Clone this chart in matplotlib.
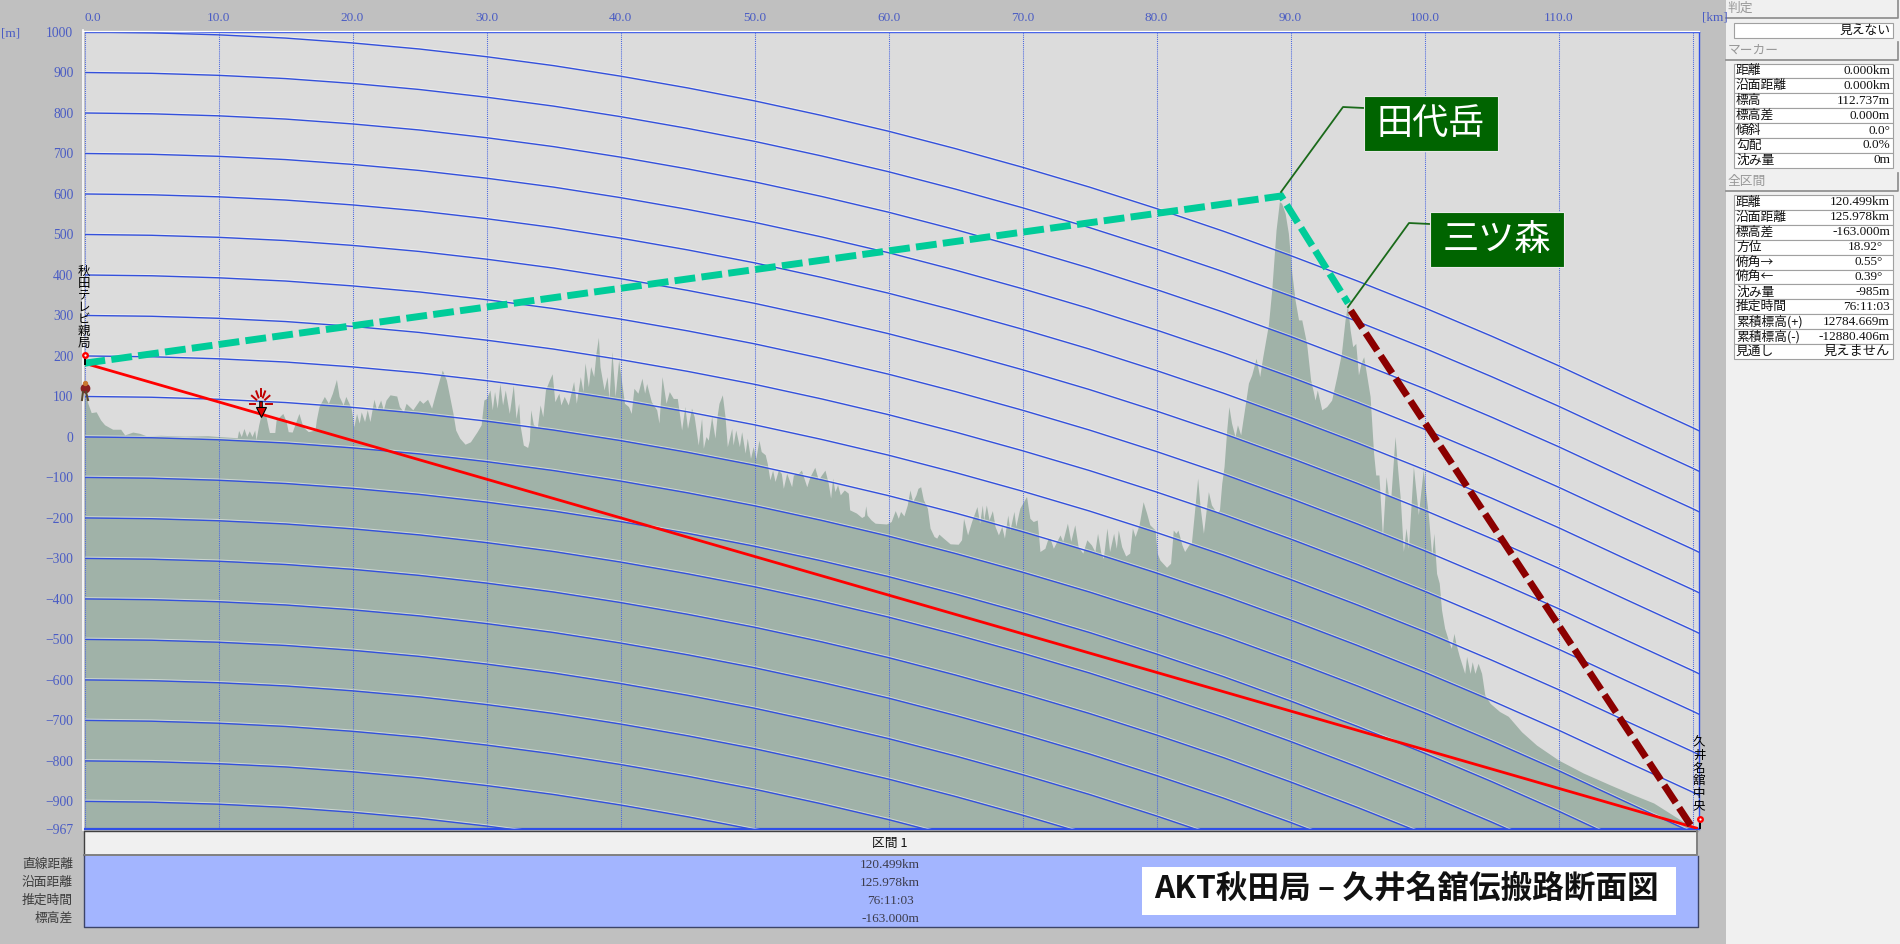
import matplotlib
matplotlib.use('Agg')
import matplotlib.pyplot as plt
import matplotlib.patheffects as pe
from matplotlib.patches import Rectangle

# terrain profile, stretch by stretch
terrain_km_a = [0, 0.25, 0.5, 0.87, 1.2, 1.5, 2.1, 2.7, 3.0, 3.6, 4.1, 4.6, 5.7, 7.5, 9.2, 10, 11.4, 11.5, 11.7, 11.9, 12.1, 12.3, 12.5, 12.7, 12.8, 13.0, 13.2, 13.5, 13.7, 13.8, 14.2, 14.3, 14.8, 15.05, 15.2, 15.5, 16.0, 16.3, 16.7, 17.2, 17.3, 17.5, 17.9, 18.2, 18.5, 18.8, 19.0, 19.3, 19.5, 19.9, 20.1, 20.3, 20.5, 20.65, 20.9, 21.1, 21.3, 21.6, 21.8, 22.1, 22.3, 22.5, 22.8, 23.3, 23.5, 23.8, 24.0, 24.5, 25.0, 25.25, 25.6, 25.9, 26.2, 26.55, 26.7, 27, 27.2, 27.5, 27.7, 28, 28.4]
terrain_m_a = [112, 83, 60, 62, 42, 30, 19, 19, 5, 12, 9, 3, 4, 2, 3, 1, -2, 16, 1, 21, 1, 15, 1, 17, -7, 30, 58, 58, 25, 11, 11, 42, 58, 38, 13, 12, 58, 25, 13, 17, 42, 75, 100, 83, 108, 142, 100, 79, 100, 71, 25, 58, 34, 62, 38, 67, 38, 93, 67, 91, 67, 91, 104, 101, 75, 62, 83, 67, 91, 83, 93, 71, 108, 149, 165, 141, 108, 58, 17, -3, -18]

terrain_km_b = [28.8, 29.3, 29.6, 29.8, 30, 30.26, 30.43, 30.6, 30.8, 31.0, 31.2, 31.4, 31.7, 32, 32.2, 32.4, 32.5, 32.75, 33.07, 33.2, 33.3, 33.5, 33.8, 34, 34.2, 34.4, 34.7, 34.9, 35.1, 35.4, 35.55, 35.8, 36.1, 36.5, 36.7, 37, 37.2, 37.35, 37.6, 37.77, 38, 38.17, 38.35, 38.47, 38.77, 39, 39.14, 39.36, 39.6, 39.86, 40.06, 40.3, 40.6, 40.8, 41, 41.3, 41.6, 41.8, 41.95, 42.3, 42.7, 42.87, 43.1, 43.4, 43.64, 43.94, 44.24, 44.56, 44.8, 45, 45.3, 45.5, 45.8, 46.05, 46.18, 46.38, 46.55, 46.8, 47.05, 47.2, 47.35, 47.6, 47.8, 47.97, 48.3, 48.4, 48.6, 48.87, 49.04, 49.3, 49.46, 49.7, 49.9, 50.1, 50.33, 50.5, 50.8, 50.95, 51.15, 51.35, 51.53, 51.78, 52.0, 52.15, 52.4, 52.77, 52.9, 53.27, 53.5, 53.9, 54.14, 54.5, 54.76, 55, 55.26, 55.5, 55.68]
terrain_m_b = [-12, 13, 30, 91, 95, 116, 67, 112, 71, 132, 79, 116, 58, 128, 46, 83, 30, -20, -26, -8, 67, 30, 25, 79, 50, 116, 141, 156, 87, 108, 79, 100, 79, 137, 83, 149, 112, 183, 124, 174, 149, 207, 246, 174, 116, 149, 95, 211, 100, 190, 141, 83, 75, 58, 120, 108, 145, 108, 132, 87, 67, 34, 149, 83, 112, 95, 95, 17, 75, 21, 71, 50, -20, 46, -28, 1, -8, 50, -3, 50, 83, 104, 50, -24, 21, -20, 17, -24, 13, -40, -3, -53, -24, -53, -8, -36, -44, -65, -106, -82, -110, -82, -90, -127, -90, -123, -94, -90, -82, -123, -98, -75, -106, -94, -82, -114, -151]

terrain_km_c = [55.83, 56, 56.2, 56.4, 56.7, 57, 57.1, 57.6, 58, 58.2, 58.3, 58.4, 58.7, 59, 59.85, 60.2, 60.5, 60.73, 60.9, 61.15, 61.4, 61.6, 61.8, 62.05, 62.2, 62.4, 62.6, 62.9, 63.1, 63.4, 63.6, 63.76, 64.1, 64.6, 65.2, 65.45, 65.6, 65.9, 66.2, 66.6, 66.8, 67, 67.1, 67.3, 67.5, 67.75, 67.95, 68.2, 68.45, 68.65, 68.9, 69.06, 69.36, 69.5, 69.8, 70.3, 70.55, 70.8, 71.1, 71.3, 71.67, 71.87, 72.05, 72.3, 72.8, 73.0, 73.35, 73.6, 73.9, 74.15, 74.5, 74.8, 75.15, 75.4, 75.6, 75.85, 76.03, 76.3, 76.5, 76.8, 77, 77.15, 77.4, 77.7, 78, 78.2, 78.4, 78.7, 79, 79.26, 79.5, 79.9, 80.05, 80.25, 80.75, 81.05, 81.25, 81.45, 81.6, 81.9, 82.1, 82.4, 82.6, 82.87, 83.07]
terrain_m_c = [-102, -135, -118, -143, -131, -139, -180, -188, -199, -195, -170, -193, -205, -213, -215, -209, -182, -201, -184, -195, -168, -131, -160, -143, -127, -123, -155, -176, -225, -246, -250, -240, -250, -264, -265, -254, -201, -242, -209, -172, -213, -168, -205, -168, -205, -182, -221, -242, -221, -250, -193, -230, -184, -221, -176, -147, -201, -209, -205, -283, -275, -254, -250, -275, -242, -258, -213, -258, -217, -271, -287, -254, -267, -283, -238, -287, -300, -225, -283, -238, -275, -230, -271, -294, -287, -225, -246, -217, -160, -188, -217, -230, -287, -304, -322, -312, -230, -238, -230, -267, -283, -267, -263, -172, -102]

terrain_km_d = [83.25, 83.5, 83.87, 84.1, 84.5, 84.7, 84.87, 85.04, 85.24, 85.4, 85.6, 85.86, 86.04, 86.28, 86.6, 86.86, 87.1, 87.43, 87.7, 87.93, 88.35, 88.6, 88.92, 89.17, 89.34, 89.6, 89.84, 90.1, 90.34, 90.6, 90.84, 91.2, 91.5, 91.7, 91.83, 92, 92.33, 92.7, 93.07, 93.45, 93.8, 94.07, 94.25, 94.45, 94.64, 94.87, 95.07, 95.26, 95.46, 95.7, 95.94, 96.2, 96.36, 96.6, 96.86, 97.13, 97.3, 97.5, 97.8, 98, 98.2, 98.42, 98.62, 98.8, 99.17, 99.54, 99.9, 100.3, 100.54, 100.7, 100.9]
terrain_m_d = [-172, -238, -135, -168, -188, -180, -114, -73, 17, 75, 34, 1, 30, 5, 75, 133, 153, 194, 149, 198, 277, 363, 511, 581, 577, 552, 503, 404, 338, 289, 289, 231, 141, 112, 91, 116, 67, 75, 91, 149, 207, 289, 326, 264, 223, 231, 153, 182, 198, 149, 100, -40, -94, -94, -246, -98, -143, -143, 1, -81, -155, -283, -225, -275, -73, -192, -81, -197, -295, -238, -337]

terrain_km_e = [101.1, 101.27, 101.5, 101.77, 102, 102.2, 102.34, 102.6, 103, 103.14, 103.4, 103.56, 103.76, 104, 104.26, 104.5, 104.9, 105.6, 106.25, 107.24, 108.36, 110, 111.85, 113.83, 115.6, 117.1, 118.3, 119.3, 120.3, 120.499]
terrain_m_e = [-361, -427, -472, -501, -522, -485, -510, -542, -584, -542, -584, -555, -584, -559, -584, -637, -658, -678, -690, -728, -761, -798, -830, -859, -884, -904, -929, -950, -966, -967]

terrain_km = terrain_km_a + terrain_km_b + terrain_km_c + terrain_km_d + terrain_km_e
terrain_m = terrain_m_a + terrain_m_b + terrain_m_c + terrain_m_d + terrain_m_e

# earth-curve lines: one start height each, all dropping by the same amount
curve_levels = [1000, 900, 800, 700, 600, 500, 400, 300, 200, 100, 0, -100, -200, -300, -400, -500, -600, -700, -800, -900]
curve_km = [0, 5, 10, 15, 20, 25, 30, 35, 40, 45, 50, 55, 60, 65, 70, 75, 80, 85, 90, 95, 100, 105, 110, 115, 120, 120.499]
curve_drop = [0, 2, 7, 15, 27, 42, 61, 83, 109, 138, 170, 206, 245, 288, 334, 383, 436, 492, 552, 615, 681, 751, 824, 901, 977, 985]

sight_km = [0, 120.3]
sight_m = [182, -966]
green_km = [0, 89.3, 94.3]
green_m = [182, 595, 330]
maroon_km = [94.5, 120.0]
maroon_m = [312, -966]

yticks = [1000, 900, 800, 700, 600, 500, 400, 300, 200, 100, 0, -100, -200, -300, -400, -500, -600, -700, -800, -900, -967]
xticks = [0, 10, 20, 30, 40, 50, 60, 70, 80, 90, 100, 110]
grid_km = xticks + [120]

judge_value = '見えない'
marker_names = ['距離', '沿面距離', '標高', '標高差', '傾斜', '勾配', '沈み量']
marker_values = ['0.000km', '0.000km', '112.737m', '0.000m', '0.0°', '0.0%', '0m']
total_names = ['距離', '沿面距離', '標高差', '方位', '俯角→', '俯角←', '沈み量', '推定時間', '累積標高(+)', '累積標高(-)', '見通し']
total_values = ['120.499km', '125.978km', '-163.000m', '18.92°', '0.55°', '0.39°', '-985m', '76:11:03', '12784.669m', '-12880.406m', '見えません']
section_names = ['直線距離', '沿面距離', '推定時間', '標高差']
section_values = ['120.499km', '125.978km', '76:11:03', '-163.000m']

CJK = ['Noto Sans CJK JP', 'DejaVu Sans']
NUM = ['Liberation Serif', 'Noto Sans CJK JP']
TICK_BLUE = '#4a5cc4'
LINE_BLUE = '#3350dc'

plt.rcParams['font.family'] = CJK

fig = plt.figure(figsize=(19, 9.44), dpi=100, facecolor='#c0c0c0')

# main profile axes, placed to the pixel
left, right, top, bottom = 84.5, 1699.2, 32, 828.5
ax = fig.add_axes([left / 1900, 1 - bottom / 944, (right - left) / 1900, (bottom - top) / 944])
ax.set_facecolor('#dcdcdc')
ax.set_xlim(0, 120.499)
ax.set_ylim(-967, 1000)

ax.fill_between(terrain_km, terrain_m, -967, color='#a0b2a8', lw=0, zorder=1)
for km in grid_km:
    ax.axvline(km, color='#4a66e0', lw=0.75, linestyle=(0, (1, 1)), zorder=2)
for level in curve_levels:
    ax.plot(curve_km, [level - d for d in curve_drop], color=LINE_BLUE, lw=1.0, zorder=3,
            path_effects=[pe.SimpleLineShadow(offset=(0, 0.8), shadow_color='#ffffff', alpha=0.45), pe.Normal()])
ax.plot(sight_km, sight_m, color='#ff0000', lw=2.0, zorder=4)
ax.plot(green_km, green_m, color='#00cc99', lw=5.0, linestyle=(0, (3.0, 0.9)), dash_capstyle='butt', dash_joinstyle='miter', zorder=5)
ax.plot(maroon_km, maroon_m, color='#8b0000', lw=5.0, linestyle=(0, (3.0, 0.9)), dash_capstyle='butt', zorder=5)

ax.xaxis.tick_top()
ax.set_xticks(xticks)
ax.set_xticklabels([f'{v:.1f}' for v in xticks], family=NUM, fontsize=9.5, color=TICK_BLUE)
ax.get_xticklabels()[0].set_ha('left')
ax.set_yticks(yticks)
ax.set_yticklabels([str(v).replace('-', '−') for v in yticks], family=NUM, fontsize=9.8, color=TICK_BLUE)
ax.tick_params(axis='x', length=0, pad=6)
ax.tick_params(axis='y', length=0, pad=8)
for side in ax.spines:
    ax.spines[side].set_color('#2f4fe8')
    ax.spines[side].set_linewidth(1.0)
ax.spines['left'].set_visible(False)
ax.spines['bottom'].set_linewidth(1.6)

# everything around the plot is window furniture, drawn in pixel coordinates
ui = fig.add_axes([0, 0, 1, 1], facecolor='none')
ui.set_xlim(0, 1900)
ui.set_ylim(944, 0)
ui.axis('off')


def box(x0, y0, x1, y1, face, edge='none', lw=0.0, z=1):
    ui.add_patch(Rectangle((x0, y0), x1 - x0, y1 - y0, facecolor=face, edgecolor=edge, linewidth=lw, zorder=z))


def header(y0, y1, label):
    box(1726, y0, 1899, y1, '#f0f0f0')
    ui.plot([1726, 1898, 1898], [y1 - 0.5, y1 - 0.5, y0], color='#8a8a8a', lw=1.2, zorder=2)
    ui.text(1728, (y0 + y1) / 2 - 0.5, label, color='#989898', fontsize=9.2, ha='left', va='center', zorder=3)


def table(y0, names, values, right_shift=()):
    row_h = 14.9
    for i, (name, value) in enumerate(zip(names, values)):
        ry = y0 + i * row_h
        box(1734, ry, 1892.5, ry + row_h, '#ffffff', '#a0a0a0', 0.8, 2)
        ui.text(1736, ry + row_h / 2, name, fontsize=9.2, color='#111111', ha='left', va='center', zorder=3)
        x = 1883 if i in right_shift else 1890
        ui.text(x, ry + row_h / 2, value, family=NUM, fontsize=9.5, color='#111111', ha='right', va='center', zorder=3)


def vertical_label(x, y0, step, label):
    for i, ch in enumerate(label):
        ui.text(x, y0 + i * step, ch, fontsize=9, color='#000000', ha='center', va='center', zorder=6)


def pin(x, y):
    ui.plot([x, x], [y + 1, y + 9], color='#000000', lw=1.4, zorder=6)
    ui.plot([x], [y], marker='o', ms=5, color='#ff0000', mew=0, zorder=7)
    ui.plot([x], [y], marker='o', ms=1.6, color='#ffffff', mew=0, zorder=8)


# white edge of the plot frame
ui.plot([83, 83], [30, 830], color='#ffffff', lw=1.2, zorder=2)
ui.plot([83, 1699], [30.5, 30.5], color='#ffffff', lw=0.9, zorder=2)

ui.text(1, 34, '[m]', family=NUM, fontsize=9.5, color=TICK_BLUE, ha='left', va='center')
ui.text(1702, 17, '[km]', family=NUM, fontsize=9.5, color=TICK_BLUE, ha='left', va='center')

# right-hand panel
box(1726, 0, 1900, 944, '#f0f0f0', z=0)
header(0, 18, '判定')
box(1734, 22.5, 1892.5, 37.5, '#ffffff', '#a0a0a0', 0.8, 2)
ui.text(1891, 30, judge_value, fontsize=9.2, color='#111111', ha='right', va='center', zorder=3)
header(42, 60, 'マーカー')
table(63.5, marker_names, marker_values)
header(173, 191, '全区間')
table(195, total_names, total_values, right_shift=(3, 4, 5))

# bottom section panel
box(84, 831, 1697, 855, '#f0f0f0', z=1)
ui.plot([84, 84, 1697], [855, 831, 831], color='#404040', lw=1.0, zorder=2)
ui.plot([84, 1697, 1697], [855, 855, 831], color='#808080', lw=1.4, zorder=2)
ui.text(890, 843, '区間 1', fontsize=9.2, color='#111111', ha='center', va='center', zorder=3)
box(84, 856, 1698, 926.5, '#a3b5ff', z=1)
ui.plot([1698, 1698, 84, 84], [856, 926.5, 926.5, 856], color='#3c4468', lw=1.0, zorder=2)
for i, (name, value) in enumerate(zip(section_names, section_values)):
    y = 864.5 + i * 18
    ui.text(73, y, name, fontsize=9.2, color='#3c3c3c', ha='right', va='center')
    ui.text(890, y, value, family=NUM, fontsize=9.5, color='#3c3c4c', ha='center', va='center', zorder=3)

# title box
box(1142, 866.5, 1676, 915, '#ffffff', z=3)
ui.text(1406, 889, 'AKT秋田局 – 久井名舘伝搬路断面図', fontsize=22.8, fontweight='bold', color='#111111',
        ha='center', va='center', zorder=4)

# mountain callouts
ui.plot([1281, 1343, 1364], [192, 107, 108], color='#1a6a1a', lw=1.3, zorder=5)
box(1364, 96, 1498, 151, '#006400', '#e8e8e8', 0.8, 5)
ui.text(1431, 124, '田代岳', fontsize=26, color='#ffffff', ha='center', va='center', zorder=6)
ui.plot([1348, 1409, 1430], [307, 223, 224], color='#1a6a1a', lw=1.3, zorder=5)
box(1430, 212, 1564, 267, '#006400', '#e8e8e8', 0.8, 5)
ui.text(1497, 240, '三ツ森', fontsize=26, color='#ffffff', ha='center', va='center', zorder=6)

# station pins and labels
vertical_label(84, 271, 12, '秋田テレビ親局')
pin(85, 355)
vertical_label(1699, 743, 12.5, '久井名舘中央')
pin(1699.5, 819)

# little walker at the marker
ui.plot([85], [388], marker='o', ms=6, color='#8a2020', zorder=6)
ui.plot([84.5], [383], marker='o', ms=2.8, color='#c87830', zorder=6)
ui.plot([83, 82], [392, 400], color='#5a4a30', lw=1.5, zorder=6)
ui.plot([86, 88], [392, 400], color='#5a4a30', lw=1.5, zorder=6)

# burst and arrow at the worst point
burst_x, burst_y = 260.7, 403.5
burst_ends = [(-10, 0), (-8, -7), (-4, -11), (0, -13), (4, -11), (8, -7), (10, 0)]
for dx, dy in burst_ends:
    ui.plot([burst_x + dx * 0.55, burst_x + dx * 1.1], [burst_y + dy * 0.55, burst_y + dy * 1.1], color='#c00000', lw=1.4, zorder=6)
ui.plot([burst_x, burst_x], [burst_y - 1, burst_y + 7], color='#000000', lw=2.6, zorder=7)
ui.plot([burst_x, burst_x], [burst_y - 1, burst_y + 7], color='#e00000', lw=1.2, zorder=8)
ui.plot([burst_x], [burst_y + 8], marker='v', ms=7, mfc='#e00000', mec='#000000', mew=0.8, zorder=8)

fig.savefig('out.png', dpi=100, facecolor=fig.get_facecolor())
